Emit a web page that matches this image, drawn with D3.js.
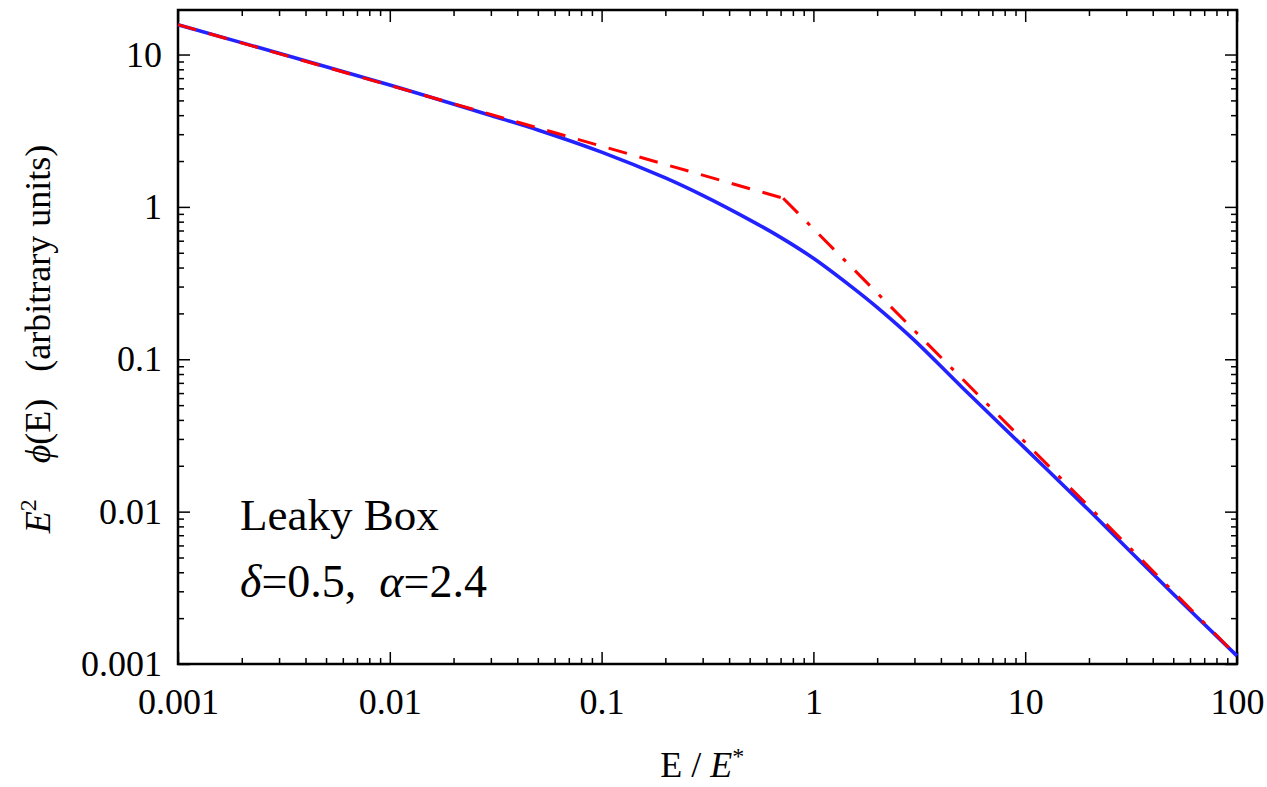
<!DOCTYPE html>
<html>
<head>
<meta charset="utf-8">
<script src="https://cdn.jsdelivr.net/npm/d3@7"></script>
<style>
  body { margin: 0; background: #fff; }
  svg { display: block; }
</style>
</head>
<body>
<svg width="1267" height="787"></svg>
<script>
// values (E / E*, E^2 phi)
var energy = [0.001, 0.01, 0.03, 0.05, 0.1, 0.2, 0.3, 0.5, 0.7, 1, 1.5, 2, 3, 5, 10, 20, 50, 100];
var fluxLeakyBox = [15.7, 6.31, 3.98, 3.2, 2.29, 1.55, 1.19, 0.822, 0.631, 0.46, 0.302, 0.219, 0.133, 0.066, 0.026, 0.0102, 0.00288, 0.00113];

// broken power law asymptote (red)
var breakEnergyLow = [0.001, 0.72];
var breakFluxLow = [15.7, 1.14];
var breakEnergyHigh = [0.72, 100];
var breakFluxHigh = [1.14, 0.00113];

var xTicks = [0.001, 0.01, 0.1, 1, 10, 100];
var yTicks = [0.001, 0.01, 0.1, 1, 10];

var margin = { top: 10, right: 30, bottom: 123, left: 178 },
    width = 1267 - margin.left - margin.right,
    height = 787 - margin.top - margin.bottom;

var serif = "Liberation Serif";

var svg = d3.select("svg")
    .append("g")
    .attr("transform", "translate(" + margin.left + "," + margin.top + ")");

var x = d3.scaleLog().domain([0.001, 100]).range([0, width]);
var y = d3.scaleLog().domain([0.001, 19.6]).range([height, 0]);

// minor ticks 2..9 in every decade
function minors(lo, hi) {
    var out = [];
    for (var e = Math.floor(Math.log10(lo)); e <= Math.ceil(Math.log10(hi)); e++) {
        for (var k = 2; k <= 9; k++) {
            var v = k * Math.pow(10, e);
            if (v > lo && v < hi) out.push(v);
        }
    }
    return out;
}
var xMinor = minors(0.001, 100);
var yMinor = minors(0.001, 19.6);

function fmt(d) { return String(+d.toPrecision(1)); }

// bottom
svg.append("g").attr("transform", "translate(0," + height + ")")
    .call(d3.axisBottom(x).tickValues(xMinor).tickSize(-6).tickSizeOuter(0).tickFormat(""));
svg.append("g").attr("class", "lab").attr("transform", "translate(0," + height + ")")
    .call(d3.axisBottom(x).tickValues(xTicks).tickSize(-12).tickSizeOuter(0).tickPadding(24).tickFormat(fmt));
// top
svg.append("g")
    .call(d3.axisTop(x).tickValues(xMinor).tickSize(-6).tickSizeOuter(0).tickFormat(""));
svg.append("g")
    .call(d3.axisTop(x).tickValues(xTicks).tickSize(-12).tickSizeOuter(0).tickFormat(""));
// left
svg.append("g")
    .call(d3.axisLeft(y).tickValues(yMinor).tickSize(-6).tickSizeOuter(0).tickFormat(""));
svg.append("g").attr("class", "lab")
    .call(d3.axisLeft(y).tickValues(yTicks).tickSize(-12).tickSizeOuter(0).tickPadding(16).tickFormat(fmt));
// right
svg.append("g").attr("transform", "translate(" + width + ",0)")
    .call(d3.axisRight(y).tickValues(yMinor).tickSize(-6).tickSizeOuter(0).tickFormat(""));
svg.append("g").attr("transform", "translate(" + width + ",0)")
    .call(d3.axisRight(y).tickValues(yTicks).tickSize(-12).tickSizeOuter(0).tickFormat(""));

svg.selectAll(".domain").remove();
svg.selectAll(".tick line").attr("stroke", "#000").attr("stroke-width", 1.5);
svg.selectAll(".lab").attr("font-family", serif).attr("font-size", 36);
svg.selectAll(".lab text").attr("fill", "#000");

// frame
svg.append("rect")
    .attr("width", width).attr("height", height)
    .attr("fill", "none").attr("stroke", "#000").attr("stroke-width", 2.5);

var smooth = d3.line()
    .x(function (d) { return x(d[0]); })
    .y(function (d) { return y(d[1]); })
    .curve(d3.curveCatmullRom.alpha(0.5));

svg.append("path")
    .datum(d3.zip(energy, fluxLeakyBox))
    .attr("fill", "none")
    .attr("stroke", "#2222ff")
    .attr("stroke-width", 3.6)
    .attr("d", smooth);

var straight = d3.line()
    .x(function (d) { return x(d[0]); })
    .y(function (d) { return y(d[1]); });

svg.append("path")
    .datum(d3.zip(breakEnergyLow, breakFluxLow))
    .attr("fill", "none")
    .attr("stroke", "#ff0000")
    .attr("stroke-width", 3)
    .attr("stroke-dasharray", "19,13")
    .attr("d", straight);

svg.append("path")
    .datum(d3.zip(breakEnergyHigh, breakFluxHigh))
    .attr("fill", "none")
    .attr("stroke", "#ff0000")
    .attr("stroke-width", 3)
    .attr("stroke-dasharray", "21,13,4,13")
    .attr("d", straight);

// annotation
var note = svg.append("g").attr("font-family", serif).attr("fill", "#000");
note.append("text").attr("x", 62).attr("y", 520).attr("font-size", 45).text("Leaky Box");
var t2 = note.append("text").attr("x", 62).attr("y", 587).attr("font-size", 46);
t2.append("tspan").attr("font-style", "italic").text("δ");
t2.append("tspan").text("=0.5,\u00a0\u00a0");
t2.append("tspan").attr("font-style", "italic").text("α");
t2.append("tspan").text("=2.4");

// axis titles
var xt = svg.append("text")
    .attr("x", width * 0.495).attr("y", height + 113)
    .attr("text-anchor", "middle")
    .attr("font-family", serif).attr("font-size", 36);
xt.append("tspan").text("E / ");
xt.append("tspan").attr("font-style", "italic").text("E");
xt.append("tspan").attr("font-size", 24).attr("dy", -13).text("*");

var yt = svg.append("text")
    .attr("transform", "translate(" + (-128) + "," + (height / 2 + 2) + ") rotate(-90)")
    .attr("text-anchor", "middle")
    .attr("font-family", serif).attr("font-size", 36);
yt.append("tspan").attr("font-style", "italic").text("E");
yt.append("tspan").attr("font-size", 24).attr("dy", -14).text("2");
yt.append("tspan").attr("dy", 14).text("\u00a0\u00a0\u00a0\u00a0");
yt.append("tspan").attr("font-style", "italic").text("ϕ");
yt.append("tspan").text("(E)\u00a0\u00a0\u00a0(arbitrary units)");
</script>
</body>
</html>
